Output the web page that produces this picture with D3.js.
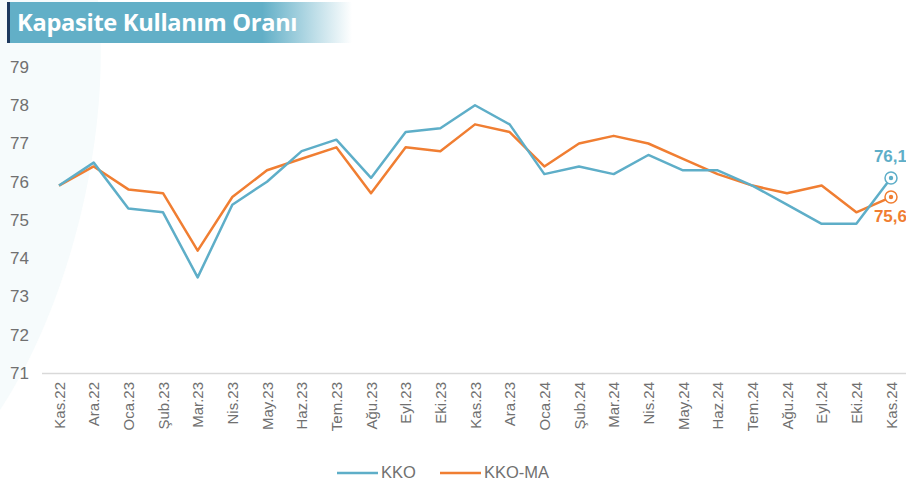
<!DOCTYPE html>
<html><head><meta charset="utf-8">
<script src="https://cdn.jsdelivr.net/npm/d3@7/dist/d3.min.js"></script>
<style>
html,body{margin:0;padding:0;background:#fff;}
svg{display:block;}
</style></head>
<body>
<svg id="c" width="906" height="482"></svg>
<script>
const categories = ["Kas.22","Ara.22","Oca.23","Şub.23","Mar.23","Nis.23","May.23","Haz.23","Tem.23","Ağu.23","Eyl.23","Eki.23","Kas.23","Ara.23","Oca.24","Şub.24","Mar.24","Nis.24","May.24","Haz.24","Tem.24","Ağu.24","Eyl.24","Eki.24","Kas.24"];
const kko   = [75.9,76.5,75.3,75.2,73.5,75.4,76.0,76.8,77.1,76.1,77.3,77.4,78.0,77.5,76.2,76.4,76.2,76.7,76.3,76.3,75.9,75.4,74.9,74.9,76.1];
const kkoMA = [75.9,76.4,75.8,75.7,74.2,75.6,76.3,76.6,76.9,75.7,76.9,76.8,77.5,77.3,76.4,77.0,77.2,77.0,76.6,76.2,75.9,75.7,75.9,75.2,75.6];
const yTicks = [71,72,73,74,75,76,77,78,79];
const seriesNames = ["KKO","KKO-MA"];
const title = "Kapasite Kullanım Oranı";

const svg = d3.select("#c");
const blue = "#5eaec8", orange = "#f07e32", grey = "#707070";

// faint background arc
svg.append("path")
  .attr("d","M0,0 L98,0 C112,130 72,300 0,410 Z")
  .attr("fill","#f6fbfc");

// title box
const defs = svg.append("defs");
const g = defs.append("linearGradient").attr("id","tg").attr("x1","0").attr("x2","1");
g.append("stop").attr("offset","0").attr("stop-color","#62afc7");
g.append("stop").attr("offset","0.74").attr("stop-color","#62afc7");
g.append("stop").attr("offset","1").attr("stop-color","#ffffff");
svg.append("rect").attr("x",7).attr("y",2).attr("width",345).attr("height",41).attr("fill","url(#tg)");
svg.append("rect").attr("x",7).attr("y",2).attr("width",3).attr("height",41).attr("fill","#1e3a5f");
const tt = svg.append("text").attr("x",17).attr("y",31).text(title)
  .attr("font-family","'Open Sans', Roboto, sans-serif").attr("font-weight",700)
  .attr("font-size",22).attr("letter-spacing",-0.3).attr("fill","#fff");
const tw = tt.node().getComputedTextLength();
tt.attr("font-size", Math.min(24, 22*280/tw));

const x = d3.scalePoint().domain(categories).range([59,891]);
const y = d3.scaleLinear().domain([71,79]).range([373,67]);

// y labels
const ya = svg.append("g").attr("transform","translate(29,0)")
  .call(d3.axisLeft(y).tickValues(yTicks).tickSize(0).tickPadding(0).tickFormat(d3.format("d")));
ya.select(".domain").remove();
ya.selectAll("text").attr("font-family","'Liberation Sans', Arial, sans-serif").attr("font-size",17).attr("fill",grey);

// x axis line
svg.append("line").attr("x1",42).attr("x2",906).attr("y1",373.5).attr("y2",373.5)
  .attr("stroke","#d9d9d9").attr("stroke-width",1.5);

const xa = svg.append("g").attr("transform","translate(0,382)")
  .call(d3.axisBottom(x).tickSize(0).tickPadding(0));
xa.select(".domain").remove();
xa.selectAll("text")
  .attr("font-family","'Liberation Sans', Arial, sans-serif").attr("font-size",15).attr("fill",grey)
  .attr("transform","rotate(-90)").attr("text-anchor","end").attr("dy","0.35em").attr("x",0).attr("y",0);

const line = d3.line().x((d,i)=>x(categories[i])).y(d=>y(d));
svg.append("path").datum(kkoMA).attr("d",line).attr("fill","none").attr("stroke",orange).attr("stroke-width",2.5).attr("stroke-linejoin","round");
svg.append("path").datum(kko).attr("d",line).attr("fill","none").attr("stroke",blue).attr("stroke-width",2.5).attr("stroke-linejoin","round");

// end markers
const last = categories.length-1;
[[kko,blue,-1],[kkoMA,orange,1]].forEach(([s,c,dir])=>{
  const cx = x(categories[last]), cy = y(s[last]);
  svg.append("circle").attr("cx",cx).attr("cy",cy).attr("r",6).attr("fill","#fff").attr("stroke",c).attr("stroke-width",1.5);
  svg.append("circle").attr("cx",cx).attr("cy",cy).attr("r",2.2).attr("fill",c);
  svg.append("text").attr("x",cx+16).attr("y",dir<0?cy-16:cy+25).attr("text-anchor","end")
    .text(d3.format(".1f")(s[last]).replace(".",","))
    .attr("font-family","'Liberation Sans', Arial, sans-serif").attr("font-weight",700).attr("font-size",17).attr("fill",c);
});

// legend
const leg = [[seriesNames[0],blue,337],[seriesNames[1],orange,440]];
leg.forEach(([n,c,lx])=>{
  svg.append("line").attr("x1",lx).attr("x2",lx+41).attr("y1",473).attr("y2",473).attr("stroke",c).attr("stroke-width",2.5);
  svg.append("text").attr("x",lx+44).attr("y",478).text(n)
    .attr("font-family","'Liberation Sans', Arial, sans-serif").attr("font-size",16.5).attr("fill",grey);
});
</script>
</body></html>
